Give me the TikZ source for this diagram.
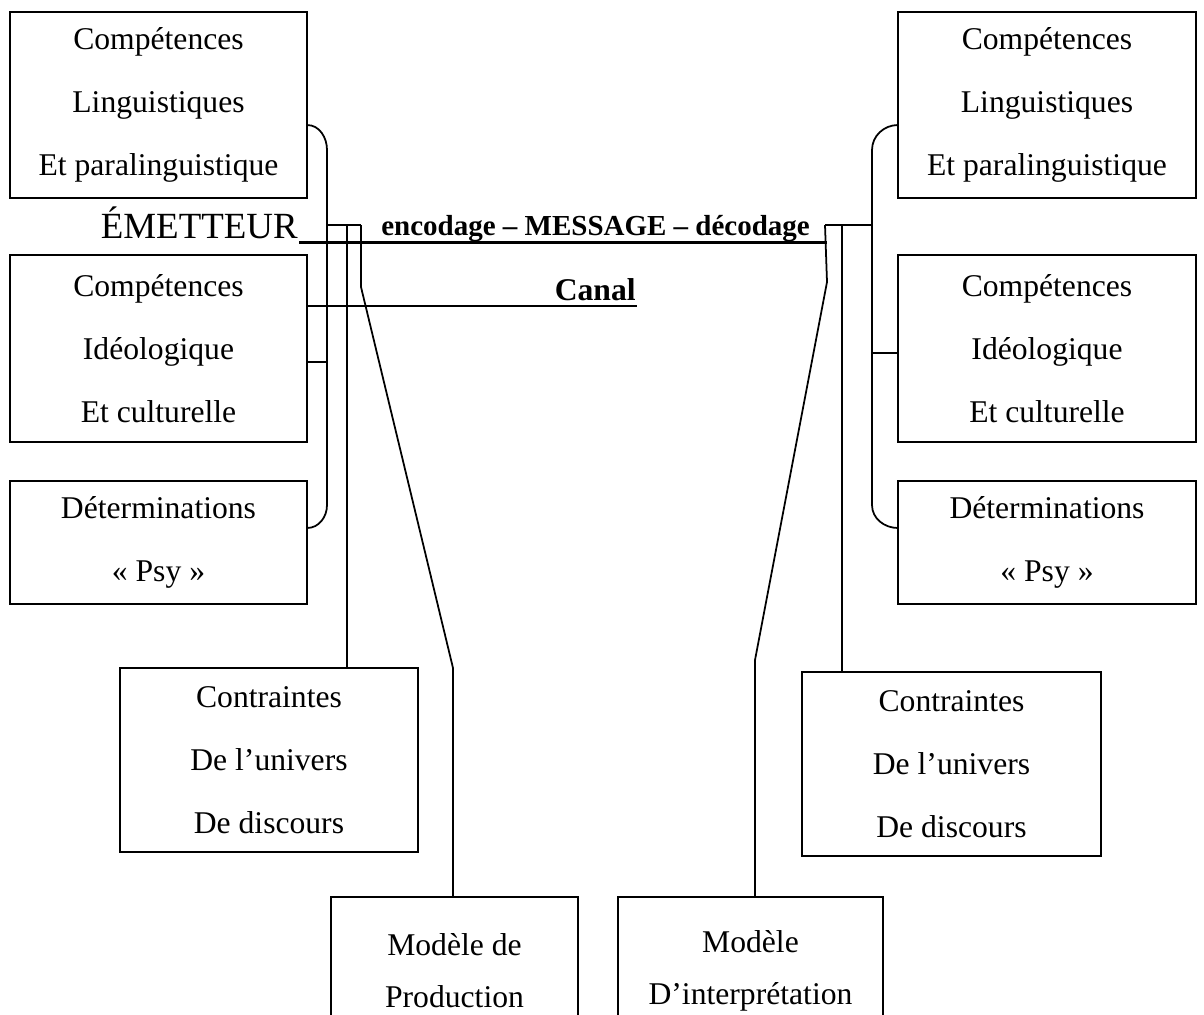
\documentclass[tikz,border=0pt]{standalone}
\usepackage{fontspec}
\setmainfont{Liberation Serif}
\begin{document}
\begin{tikzpicture}
	\tikzstyle{none}=[inner sep=0pt]
	\tikzstyle{bloc}=[draw, line width=0.9pt, align=center, inner sep=0pt, font=\fontsize{18}{35.7}\selectfont]
	\tikzstyle{bas}=[draw, line width=0.9pt, align=center, inner sep=0pt, font=\fontsize{18}{29.5}\selectfont]
	\tikzstyle{simple}=[-,draw,line width=1.000]
	\tikzstyle{thick1}=[-,draw,line width=1.700]
		\useasboundingbox (0, 0) rectangle (24.08, -20.28);

		% emetteur
		\node [style=bloc, minimum width=5.94cm, minimum height=3.72cm] (eL1) at (3.17, -2.10) {Compétences\\Linguistiques\\Et paralinguistique};
		\node [style=bloc, minimum width=5.94cm, minimum height=3.74cm] (eL2) at (3.17, -6.97) {Compétences\\Idéologique\\Et culturelle};
		\node [style=bloc, minimum width=5.94cm, minimum height=2.46cm] (eL3) at (3.17, -10.85) {Déterminations\\« Psy »};
		% recepteur
		\node [style=bloc, minimum width=5.96cm, minimum height=3.72cm] (rR1) at (20.94, -2.10) {Compétences\\Linguistiques\\Et paralinguistique};
		\node [style=bloc, minimum width=5.96cm, minimum height=3.74cm] (rR2) at (20.94, -6.97) {Compétences\\Idéologique\\Et culturelle};
		\node [style=bloc, minimum width=5.96cm, minimum height=2.46cm] (rR3) at (20.94, -10.85) {Déterminations\\« Psy »};
		% contraintes et modeles
		\node [style=bloc, minimum width=5.96cm, minimum height=3.68cm] (cL) at (5.38, -15.20) {Contraintes\\De l’univers\\De discours};
		\node [style=bloc, minimum width=5.98cm, minimum height=3.68cm] (cR) at (19.03, -15.28) {Contraintes\\De l’univers\\De discours};
		\node [style=bas, minimum width=4.94cm, minimum height=2.96cm] (mP) at (9.09, -19.42) {Modèle de\\Production};
		\node [style=bas, minimum width=5.30cm, minimum height=2.96cm] (mI) at (15.01, -19.42) {Modèle\\D’interprétation};

		\node [style=none, anchor=base east, font=\fontsize{21}{25}\selectfont] (em) at (5.96, -4.76) {ÉMETTEUR};
		\node [style=none, anchor=base west, font=\fontsize{16.5}{20}\selectfont\bfseries] (msg) at (7.62, -4.70) {encodage – MESSAGE – décodage};
		\node [style=none, anchor=base east, font=\fontsize{18}{22}\selectfont\bfseries] (can) at (12.72, -6.00) {Canal};

		\node [style=none] (0) at (5.98, -4.84) {};
		\node [style=none] (1) at (16.54, -4.84) {};
		\node [style=none] (2) at (6.14, -6.12) {};
		\node [style=none] (3) at (12.74, -6.12) {};
		\node [style=none] (4) at (6.14, -2.50) {};
		\node [style=none] (5) at (6.54, -3.00) {};
		\node [style=none] (6) at (6.54, -10.10) {};
		\node [style=none] (7) at (6.14, -10.56) {};
		\node [style=none] (8) at (6.14, -7.24) {};
		\node [style=none] (9) at (6.54, -7.24) {};
		\node [style=none] (10) at (6.54, -4.50) {};
		\node [style=none] (11) at (7.22, -4.50) {};
		\node [style=none] (12) at (6.94, -4.50) {};
		\node [style=none] (13) at (6.94, -13.36) {};
		\node [style=none] (14) at (7.22, -5.74) {};
		\node [style=none] (15) at (9.06, -13.36) {};
		\node [style=none] (16) at (9.06, -17.94) {};
		\node [style=none] (17) at (17.96, -2.50) {};
		\node [style=none] (18) at (17.44, -3.00) {};
		\node [style=none] (19) at (17.44, -10.10) {};
		\node [style=none] (20) at (17.96, -10.56) {};
		\node [style=none] (21) at (17.44, -7.06) {};
		\node [style=none] (22) at (17.96, -7.06) {};
		\node [style=none] (23) at (16.50, -4.50) {};
		\node [style=none] (24) at (17.44, -4.50) {};
		\node [style=none] (25) at (16.84, -4.50) {};
		\node [style=none] (26) at (16.84, -13.44) {};
		\node [style=none] (27) at (16.54, -5.64) {};
		\node [style=none] (28) at (15.10, -13.20) {};
		\node [style=none] (29) at (15.10, -17.94) {};

		\draw [style=thick1] (0.center) to (1.center);
		\draw [style=simple] (2.center) to (3.center);
		\draw [style=simple, out=0, in=90] (4.center) to (5.center);
		\draw [style=simple] (5.center) to (6.center);
		\draw [style=simple, out=-90, in=0] (6.center) to (7.center);
		\draw [style=simple] (8.center) to (9.center);
		\draw [style=simple] (10.center) to (11.center);
		\draw [style=simple] (12.center) to (13.center);
		\draw [style=simple] (11.center) to (14.center) to (15.center) to (16.center);
		\draw [style=simple, out=180, in=90] (17.center) to (18.center);
		\draw [style=simple] (18.center) to (19.center);
		\draw [style=simple, out=-90, in=180] (19.center) to (20.center);
		\draw [style=simple] (21.center) to (22.center);
		\draw [style=simple] (23.center) to (24.center);
		\draw [style=simple] (25.center) to (26.center);
		\draw [style=simple] (23.center) to (27.center) to (28.center) to (29.center);

\end{tikzpicture}
\end{document}
